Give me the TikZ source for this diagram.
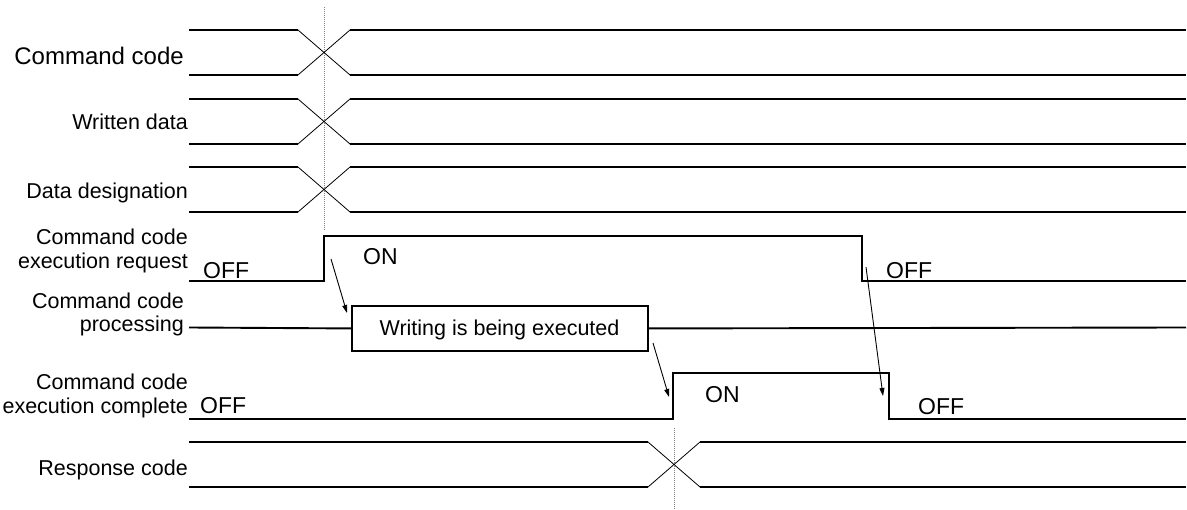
\documentclass[tikz,border=0pt]{standalone}
\usepackage{fontspec}
\setmainfont{Liberation Sans}
\usetikzlibrary{arrows.meta}
\begin{document}
\begin{tikzpicture}[x=1pt,y=-1pt,
  wire/.style={line width=1.9pt},
  cross/.style={line width=0.8pt},
  marker/.style={gray, line width=0.8pt, dash pattern=on 1pt off 1pt},
  cause/.style={line width=0.9pt, -{Triangle[length=8pt,width=5pt]}},
  lbl/.style={inner sep=0pt, font=\fontsize{21.5}{23.5}\selectfont, align=right},
  state/.style={inner sep=0pt, font=\fontsize{23}{26}\selectfont},
]
\useasboundingbox (0,0) rectangle (1187,510);

% bus signal: #1 crossing x, #2 upper level, #3 lower level
\newcommand\drawbus[3]{%
  \draw[wire] (189,#2) -- ({#1-26},#2) ({#1+26},#2) -- (1186,#2);
  \draw[wire] (189,#3) -- ({#1-26},#3) ({#1+26},#3) -- (1186,#3);
  \draw[cross] ({#1-26},#2) -- ({#1+26},#3) ({#1-26},#3) -- ({#1+26},#2);
}

% change instants
\draw[marker] (324,7) -- (324,231);
\draw[marker] (674,428) -- (674,510);

% bus signals
\drawbus{324}{30}{75}
\drawbus{324}{99}{144}
\drawbus{324}{167}{212}
\drawbus{674}{442}{487}

% execution request
\draw[wire] (189,281) -- (324,281) -- (324,236) -- (862,236)
  -- (862,281) -- (1186,281);
% processing, with its busy box
\node[wire, draw, minimum width=296pt, minimum height=45pt, anchor=north west,
  inner sep=0pt] (busy) at (351,305) {};
\node[lbl, anchor=base] (busytxt) at (499.5,336) {Writing is being executed};
\draw[wire] (189,327.5) -- (busy.west) (busy.east) -- (1186,327.5);
% execution complete
\draw[wire] (189,419) -- (673,419) -- (673,373) -- (889,373)
  -- (889,419) -- (1186,419);

% signal names
\node[inner sep=0pt, font=\fontsize{24}{26}\selectfont, anchor=base east]
  (n1) at (184,65) {Command code};
\node[lbl, anchor=base east] (n2) at (188,130) {Written data};
\node[lbl, anchor=base east] (n3) at (188,199) {Data designation};
\node[lbl, anchor=base east] (n4a) at (188,245) {Command code};
\node[lbl, anchor=base east] (n4b) at (188,268.5) {execution request};
\node[lbl, anchor=base east] (n5a) at (184,308.5) {Command code};
\node[lbl, anchor=base east] (n5b) at (184,332) {processing};
\node[lbl, anchor=base east] (n6a) at (188,390) {Command code};
\node[lbl, anchor=base east] (n6b) at (188,413.5) {execution complete};
\node[lbl, anchor=base east] (n7) at (188,476) {Response code};

% levels
\node[state, anchor=base west] (s1) at (203,278.5) {OFF};
\node[state, anchor=base west] (s2) at (363,265) {ON};
\node[state, anchor=base west] (s3) at (886,278.5) {OFF};
\node[state, anchor=base west] (s4) at (200,414) {OFF};
\node[state, anchor=base west] (s5) at (705,402.5) {ON};
\node[state, anchor=base west] (s6) at (918,414.5) {OFF};

% causality
\coordinate (a1s) at (331,259);  \coordinate (a1e) at (347,313);
\coordinate (a2s) at (653,343);  \coordinate (a2e) at (669,397);
\coordinate (a3s) at (866,267);  \coordinate (a3e) at (883,396);
\draw[cause] (a1s) -- (a1e);
\draw[cause] (a2s) -- (a2e);
\draw[cause] (a3s) -- (a3e);
\end{tikzpicture}
\end{document}
